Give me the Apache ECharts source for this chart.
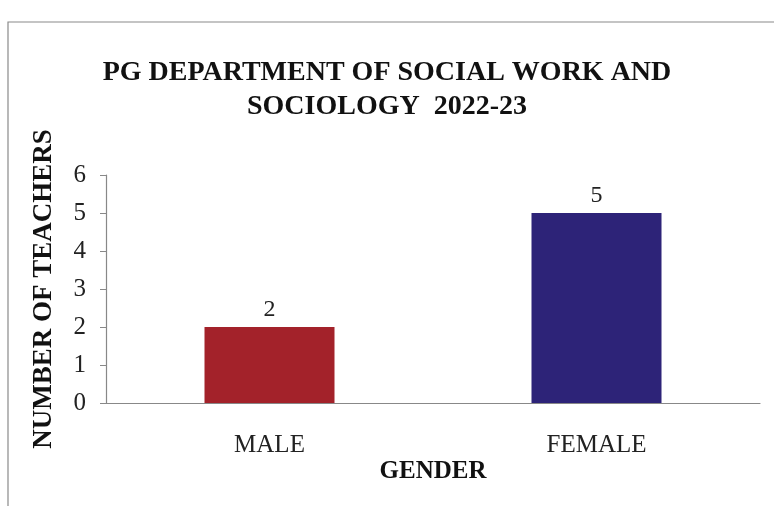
<!DOCTYPE html>
<html>
<head>
<meta charset="utf-8">
<script src="https://cdn.jsdelivr.net/npm/echarts@6/dist/echarts.min.js"></script>
<style>
html,body{margin:0;padding:0;background:#fff;}
#c{width:774px;height:506px;}
</style>
</head>
<body>
<div id="c"></div>
<script>
const categories = ['MALE', 'FEMALE'];
const teachers = [2, 5];
const barColors = ['#A3222A', '#2D2378'];
const yTicks = [0, 1, 2, 3, 4, 5, 6];
const titleText = 'PG DEPARTMENT OF SOCIAL WORK AND\nSOCIOLOGY  2022-23';
const yAxisName = 'NUMBER OF TEACHERS';
const xAxisName = 'GENDER';

const serif = '"Liberation Serif", "Times New Roman", serif';
const chart = echarts.init(document.getElementById('c'), null, {renderer: 'canvas'});
chart.setOption({
  backgroundColor: '#fff',
  animation: false,
  graphic: [{
    type: 'rect',
    shape: {x: 8, y: 22, width: 800, height: 520},
    style: {fill: 'none', stroke: '#8a8a8a', lineWidth: 1.2}
  }],
  title: {
    text: titleText,
    left: 'center',
    top: 51,
    textStyle: {fontFamily: serif, fontWeight: 'bold', fontSize: 28, lineHeight: 34, color: '#111'}
  },
  grid: {left: 106, right: 14, top: 175, bottom: 103},
  xAxis: {
    type: 'category',
    data: categories,
    name: xAxisName,
    nameLocation: 'middle',
    nameGap: 51,
    nameTextStyle: {fontFamily: serif, fontWeight: 'bold', fontSize: 25, color: '#111'},
    axisLine: {lineStyle: {color: '#888', width: 1.2}},
    axisTick: {show: false},
    axisLabel: {fontFamily: serif, fontSize: 25, color: '#222', margin: 30}
  },
  yAxis: {
    type: 'value',
    min: yTicks[0], max: yTicks[yTicks.length - 1], interval: 1,
    name: yAxisName,
    nameLocation: 'middle',
    nameRotate: 90,
    nameGap: 48,
    nameTextStyle: {fontFamily: serif, fontWeight: 'bold', fontSize: 27, color: '#111'},
    axisLine: {show: true, lineStyle: {color: '#888', width: 1.2}},
    axisTick: {show: true, inside: false, length: 6, lineStyle: {color: '#888'}},
    splitLine: {show: false},
    axisLabel: {fontFamily: serif, fontSize: 25, color: '#222', margin: 20}
  },
  series: [{
    type: 'bar',
    data: teachers.map((v, i) => ({value: v, itemStyle: {color: barColors[i]}})),
    barWidth: 130,
    label: {show: true, position: 'top', distance: 5, fontFamily: serif, fontSize: 24, color: '#222'}
  }]
});
</script>
</body>
</html>
